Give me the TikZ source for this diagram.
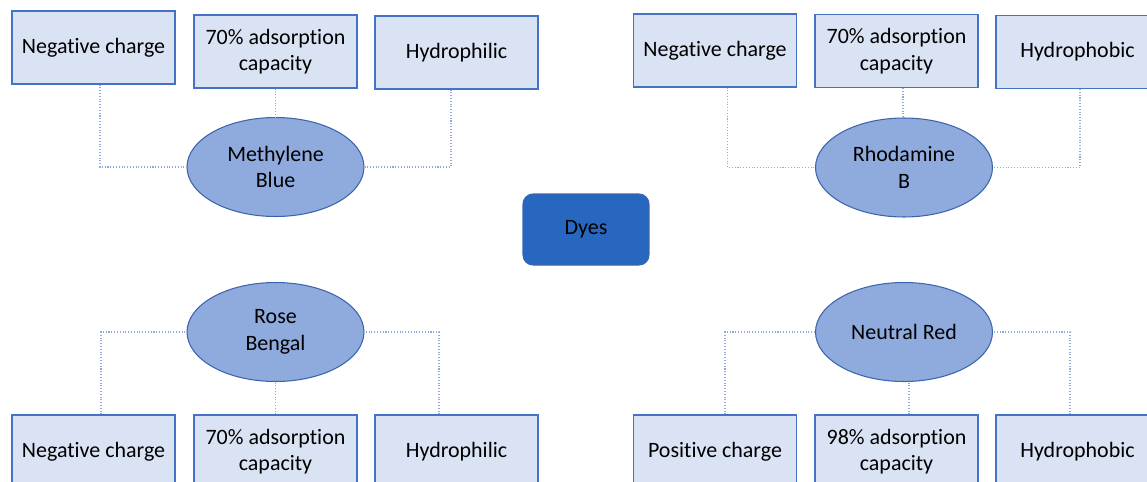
\documentclass[tikz,border=0pt]{standalone}
\usepackage{fontspec}
\setmainfont[Ligatures=NoCommon]{Carlito}
\usetikzlibrary{shapes.geometric}
\definecolor{boxfill}{HTML}{DAE3F3}
\definecolor{boxline}{HTML}{4472C4}
\definecolor{dyefill}{HTML}{8FAADC}
\definecolor{dyeline}{HTML}{3C64AE}
\definecolor{rootfill}{HTML}{2767C0}
\definecolor{linkcol}{HTML}{8FAADC}

\begin{document}
\begin{tikzpicture}[x=0.02cm,y=-0.02cm]\fontsize{12.5}{15}\selectfont
\tikzstyle{prop}=[draw=boxline,fill=boxfill,line width=0.6pt,minimum width=3.26cm,minimum height=1.46cm,align=center,inner sep=2pt]
\tikzstyle{dye}=[draw=dyeline,fill=dyefill,ellipse,line width=0.6pt,minimum width=3.54cm,minimum height=1.98cm,inner sep=0pt,align=center]
\tikzstyle{root}=[draw=dyeline,fill=rootfill,rounded corners=0.2cm,line width=0.6pt,minimum width=2.52cm,minimum height=1.42cm]
\tikzstyle{link}=[draw=linkcol,densely dotted,line width=0.6pt]
\useasboundingbox (0,0) rectangle (1147,481);
% centre
\node[root] (DY) at (586,229.5) {Dyes};
% methylene blue
\node[dye] (MB) at (275.5,167) {Methylene\\Blue};
\node[prop] (MBc) at (93.5,47.5) {Negative charge};
\node[prop] (MBa) at (275.5,51.5) {70\% adsorption\\capacity};
\node[prop] (MBh) at (456.5,52.5) {Hydrophilic};
% rhodamine b
\node[dye] (RB) at (904,167.5) {Rhodamine\\B};
\node[prop] (RBc) at (715,50.5) {Negative charge};
\node[prop] (RBa) at (896.5,51) {70\% adsorption\\capacity};
\node[prop] (RBh) at (1077.5,52) {Hydrophobic};
% rose bengal
\node[dye] (RG) at (275.5,332) {Rose\\Bengal};
\node[prop] (RGc) at (93.5,451.5) {Negative charge};
\node[prop] (RGa) at (275.5,451.5) {70\% adsorption\\capacity};
\node[prop] (RGh) at (456.5,451.5) {Hydrophilic};
% neutral red
\node[dye] (NR) at (904,332) {Neutral Red};
\node[prop] (NRc) at (715,451.5) {Positive charge};
\node[prop] (NRa) at (896.5,451.5) {98\% adsorption\\capacity};
\node[prop] (NRh) at (1077.5,451.5) {Hydrophobic};

\draw[link] ([xshift=0.13cm]MBc.south) |- (MB);
\draw[link] (MBa.south) -- (MBa.south |- MB.north);
\draw[link] ([xshift=-0.11cm]MBh.south) |- (MB);
\draw[link] ([xshift=0.25cm]RBc.south) |- (RB);
\draw[link] ([xshift=0.13cm]RBa.south) -- ([xshift=0.13cm]RBa.south |- RB.north);
\draw[link] ([xshift=0.05cm]RBh.south) |- (RB);
\draw[link] ([xshift=0.15cm]RGc.north) |- (RG);
\draw[link] (RGa.north) -- (RGa.north |- RG.south);
\draw[link] ([xshift=-0.35cm]RGh.north) |- (RG);
\draw[link] ([xshift=0.2cm]NRc.north) |- (NR);
\draw[link] ([xshift=0.25cm]NRa.north) -- ([xshift=0.25cm]NRa.north |- NR.south);
\draw[link] ([xshift=-0.15cm]NRh.north) |- (NR);
\end{tikzpicture}
\end{document}
